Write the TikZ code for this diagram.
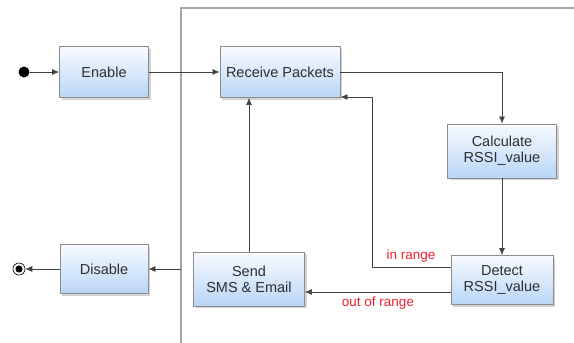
\documentclass[tikz,border=0pt]{standalone}
\usepackage{fontspec}
\setmainfont{Liberation Sans}
\usetikzlibrary{shadows,arrows.meta}
\definecolor{boxtop}{HTML}{F8FBFF}
\definecolor{boxbot}{HTML}{B9D5F6}
\definecolor{boxline}{HTML}{8C8C8C}
\definecolor{frameline}{HTML}{A6A6A6}
\definecolor{txt}{HTML}{2E2E2E}
\definecolor{guard}{HTML}{EE2230}
\begin{document}
\begin{tikzpicture}[x=1pt, y=-1pt, font=\fontsize{14.5}{16}\selectfont, line join=round, >={Latex[length=7pt,width=6pt]},
  state/.style={draw=boxline, line width=0.9pt, top color=boxtop, bottom color=boxbot, text=txt, align=center, inner sep=0pt,
    drop shadow={shadow xshift=2pt, shadow yshift=-2pt, opacity=0.35}},
  flow/.style={draw=black!75, line width=0.7pt},
  guardlbl/.style={text=guard, font=\fontsize{13.5}{15}\selectfont}]
\useasboundingbox (0,0) rectangle (574,343);
% frame of the running part
\draw[frameline, line width=1.4pt] (181,343) -- (181,8) -- (574,8);
% states
\node[state, minimum width=89pt, minimum height=51pt] (enable) at (104,72) {Enable};
\node[state, minimum width=120pt, minimum height=51pt] (receive) at (280,72) {Receive Packets};
\node[state, minimum width=109pt, minimum height=54pt] (calc) at (502,151) {Calculate\\RSSI\_value};
\node[state, minimum width=102pt, minimum height=49pt] (detect) at (502,280) {Detect\\RSSI\_value};
\node[state, minimum width=111pt, minimum height=54pt] (send) at (249,279) {Send\\SMS \& Email};
\node[state, minimum width=88pt, minimum height=49pt] (disable) at (104,269) {Disable};
% start and end
\node[circle, fill=black, minimum width=10pt, minimum height=11pt, inner sep=0pt] (init) at (24,72) {};
\node[circle, draw=black, line width=0.6pt, minimum size=12pt, inner sep=0pt] (final) at (19,269) {};
\fill (final) circle (3.6pt);
\coordinate (exit) at (181,269);
\coordinate (bend) at (372,97);
% transitions
\draw[flow,->] (init) -- (enable);
\draw[flow,->] (enable) -- (receive);
\draw[flow,->] (receive) -| (calc);
\draw[flow,->] (calc) -- (detect);
\draw[flow,->] ([yshift=13pt]detect.west) -| (bend) -- (bend -| receive.east);
\node[guardlbl] (inr) at (411,256) {in range};
\draw[flow,->] ([yshift=-12pt]detect.west) -- ([yshift=-12pt]detect.west -| send.east);
\node[guardlbl] (outr) at (378,303) {out of range};
\draw[flow,->] (send) -- (send |- receive.south);
\draw[flow,->] (exit) -- (disable);
\draw[flow,->] (disable) -- (final);
\end{tikzpicture}
\end{document}
